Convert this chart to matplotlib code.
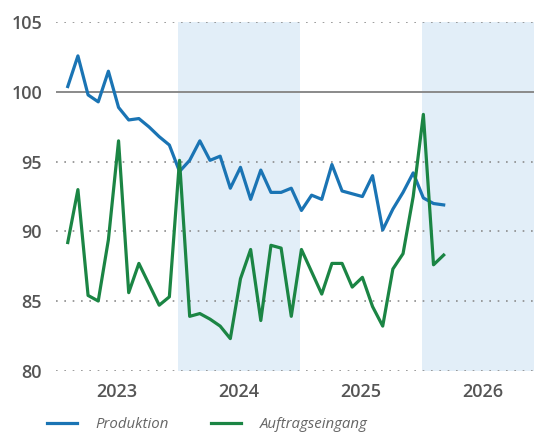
import numpy as np
import matplotlib.pyplot as plt

# monthly index values, first point Feb 2023
produktion = [100.4, 102.6, 99.8, 99.3, 101.5, 98.9, 98.0, 98.1, 97.5, 96.8, 96.2, 94.3,
              95.1, 96.5, 95.1, 95.4, 93.1, 94.6, 92.3, 94.4, 92.8, 92.8, 93.1, 91.5,
              92.6, 92.3, 94.8, 92.9, 92.7, 92.5, 94.0, 90.1, 91.6, 92.8, 94.2,
              92.4, 92.0, 91.9]
auftragseingang = [89.2, 93.0, 85.4, 85.0, 89.4, 96.5, 85.6, 87.7, 86.2, 84.7, 85.3, 95.1,
                   83.9, 84.1, 83.7, 83.2, 82.3, 86.6, 88.7, 83.6, 89.0, 88.8, 83.9, 88.7,
                   87.1, 85.5, 87.7, 87.7, 86.0, 86.7, 84.6, 83.2, 87.3, 88.4, 92.5,
                   98.4, 87.6, 88.3]
years = [2023, 2024, 2025, 2026]
shaded_years = [2024, 2026]
yticks = [80, 85, 90, 95, 100, 105]

x = 2023 + (np.arange(len(produktion)) + 1.15) / 12

fig = plt.figure(figsize=(5.34, 4.32), dpi=100)
ax = fig.add_axes([0.105, 0.142, 0.895, 0.806])

for yr in shaded_years:
    ax.axvspan(yr, yr + 1, color='#e2eef8', lw=0, zorder=0)

for y in yticks:
    if y == 100:
        ax.axhline(y, color='#8a8a8a', lw=1.4, zorder=1)
    else:
        ax.axhline(y, color='#8c8c8c', lw=1.2, ls=(0, (1, 4)), zorder=1)

ax.plot(x, produktion, color='#1a74b4', lw=2.3, label='Produktion', zorder=3)
ax.plot(x, auftragseingang, color='#1b8544', lw=2.3, label='Auftragseingang', zorder=4)

ax.set_xlim(2023, 2026.92)
ax.set_ylim(80, 105)
ax.set_yticks(yticks)
ax.set_xticks([yr + 0.5 for yr in years])
ax.set_xticklabels([str(yr) for yr in years])
ax.tick_params(length=0, labelsize=13, labelcolor='#555555')
ax.tick_params(axis='y', pad=10)
ax.tick_params(axis='x', pad=9)
for lbl in ax.get_xticklabels() + ax.get_yticklabels():
    lbl.set_fontfamily('Open Sans')
    lbl.set_fontweight('semibold')
for s in ax.spines.values():
    s.set_visible(False)

leg = fig.legend(loc='center left', bbox_to_anchor=(0.076, 0.017), ncol=2,
                 frameon=False, handlelength=2.0, handletextpad=1.25,
                 columnspacing=2.85, borderaxespad=0,
                 prop={'family': 'Open Sans', 'style': 'italic', 'size': 10.8})
for t in leg.get_texts():
    t.set_color('#666666')

fig.savefig('out.png', dpi=100)
